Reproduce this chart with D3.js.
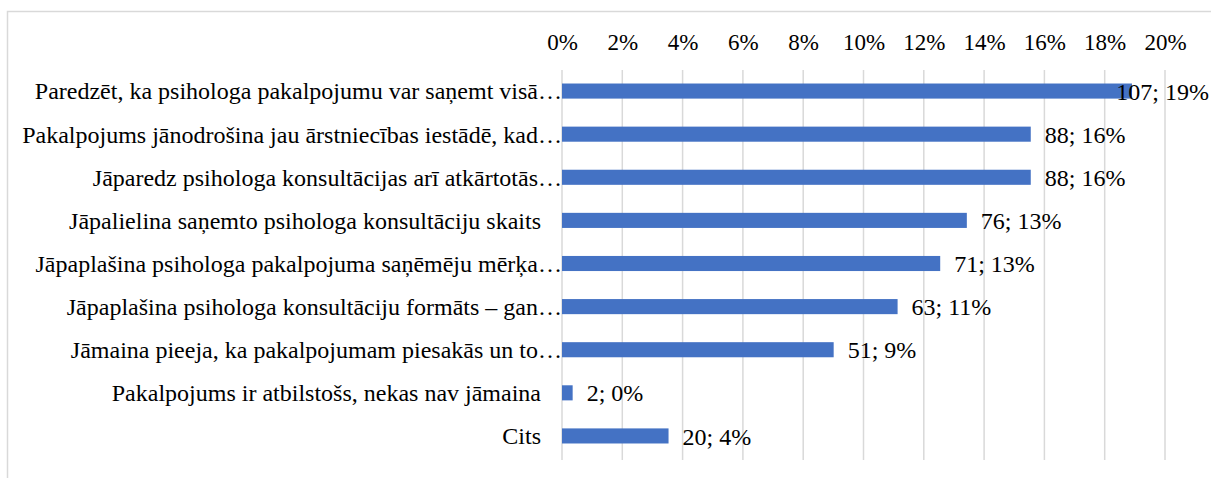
<!DOCTYPE html>
<html>
<head>
<meta charset="utf-8">
<script src="https://cdn.jsdelivr.net/npm/d3@7"></script>
<style>
  body { margin: 0; background: #fff; }
</style>
</head>
<body>
<script>
var width = 1211,
    height = 478;
var font = "'Liberation Serif', serif";
var fontSize = "24px";

// kategorijas un skaiti (no attēla)
var categories = [
  "Paredzēt, ka psihologa pakalpojumu var saņemt visā…",
  "Pakalpojums jānodrošina jau ārstniecības iestādē, kad…",
  "Jāparedz psihologa konsultācijas arī atkārtotās…",
  "Jāpalielina saņemto psihologa konsultāciju skaits",
  "Jāpaplašina psihologa pakalpojuma saņēmēju mērķa…",
  "Jāpaplašina psihologa konsultāciju formāts – gan…",
  "Jāmaina pieeja, ka pakalpojumam piesakās un to…",
  "Pakalpojums ir atbilstošs, nekas nav jāmaina",
  "Cits"
];
var counts = [107, 88, 88, 76, 71, 63, 51, 2, 20];
var tickValues = [0, 0.02, 0.04, 0.06, 0.08, 0.10, 0.12, 0.14, 0.16, 0.18, 0.20];

var total = d3.sum(counts);
var rows = categories.map(function (c, i) {
  return { name: c, count: counts[i], share: counts[i] / total };
});

var svg = d3.select("body").append("svg")
    .attr("width", width)
    .attr("height", height);

// rāmis
svg.append("rect")
    .attr("x", 7.5)
    .attr("y", 11.5)
    .attr("width", width + 10)
    .attr("height", height + 10)
    .attr("fill", "none")
    .attr("stroke", "#d9d9d9")
    .attr("stroke-width", 1.5);

var x = d3.scaleLinear()
    .domain([0, 0.20])
    .range([562, 1165]);

var y = d3.scaleBand()
    .domain(categories)
    .range([69.5, 457.5])
    .paddingInner(0.65)
    .paddingOuter(0.325);

// režģa līnijas
svg.append("g")
    .selectAll("line")
    .data(tickValues)
    .enter().append("line")
    .attr("x1", function (d) { return x(d); })
    .attr("x2", function (d) { return x(d); })
    .attr("y1", 70)
    .attr("y2", 460)
    .attr("stroke", "#d9d9d9")
    .attr("stroke-width", 1.5);

// augšējā ass
var axisTop = d3.axisTop(x)
    .tickValues(tickValues)
    .tickSize(0)
    .tickPadding(0)
    .tickFormat(d3.format(".0%"));

var gx = svg.append("g")
    .attr("transform", "translate(0,50)")
    .call(axisTop);
gx.select(".domain").remove();
gx.selectAll("text")
    .attr("fill", "#000")
    .style("font-size", "23px")
    .style("font-family", font);

// kategoriju nosaukumi (saīsinātie ar "…" iziet pāri malai)
svg.append("g")
    .selectAll("text")
    .data(rows)
    .enter().append("text")
    .attr("x", function (d) { return d.name.slice(-1) === "…" ? 562 : 541; })
    .attr("y", function (d) { return y(d.name) + y.bandwidth() / 2; })
    .attr("dy", "0.35em")
    .attr("text-anchor", "end")
    .style("font-size", fontSize)
    .style("font-family", font)
    .text(function (d) { return d.name; });

// stabiņi
svg.append("g")
    .selectAll("rect")
    .data(rows)
    .enter().append("rect")
    .attr("x", x(0))
    .attr("y", function (d) { return y(d.name); })
    .attr("width", function (d) { return x(d.share) - x(0); })
    .attr("height", y.bandwidth())
    .attr("fill", "#4472c4");

// datu etiķetes
var labels = svg.append("g")
    .selectAll("text")
    .data(rows)
    .enter().append("text")
    .attr("y", function (d) { return y(d.name) + y.bandwidth() / 2; })
    .attr("dy", "0.36em")
    .style("font-size", fontSize)
    .style("font-family", font)
    .text(function (d) { return d.count + "; " + Math.round(d.share * 100) + "%"; });

labels.attr("x", function (d) {
  var w = this.getComputedTextLength();
  return Math.min(x(d.share) + 14, 1209 - w);
});
</script>
</body>
</html>
